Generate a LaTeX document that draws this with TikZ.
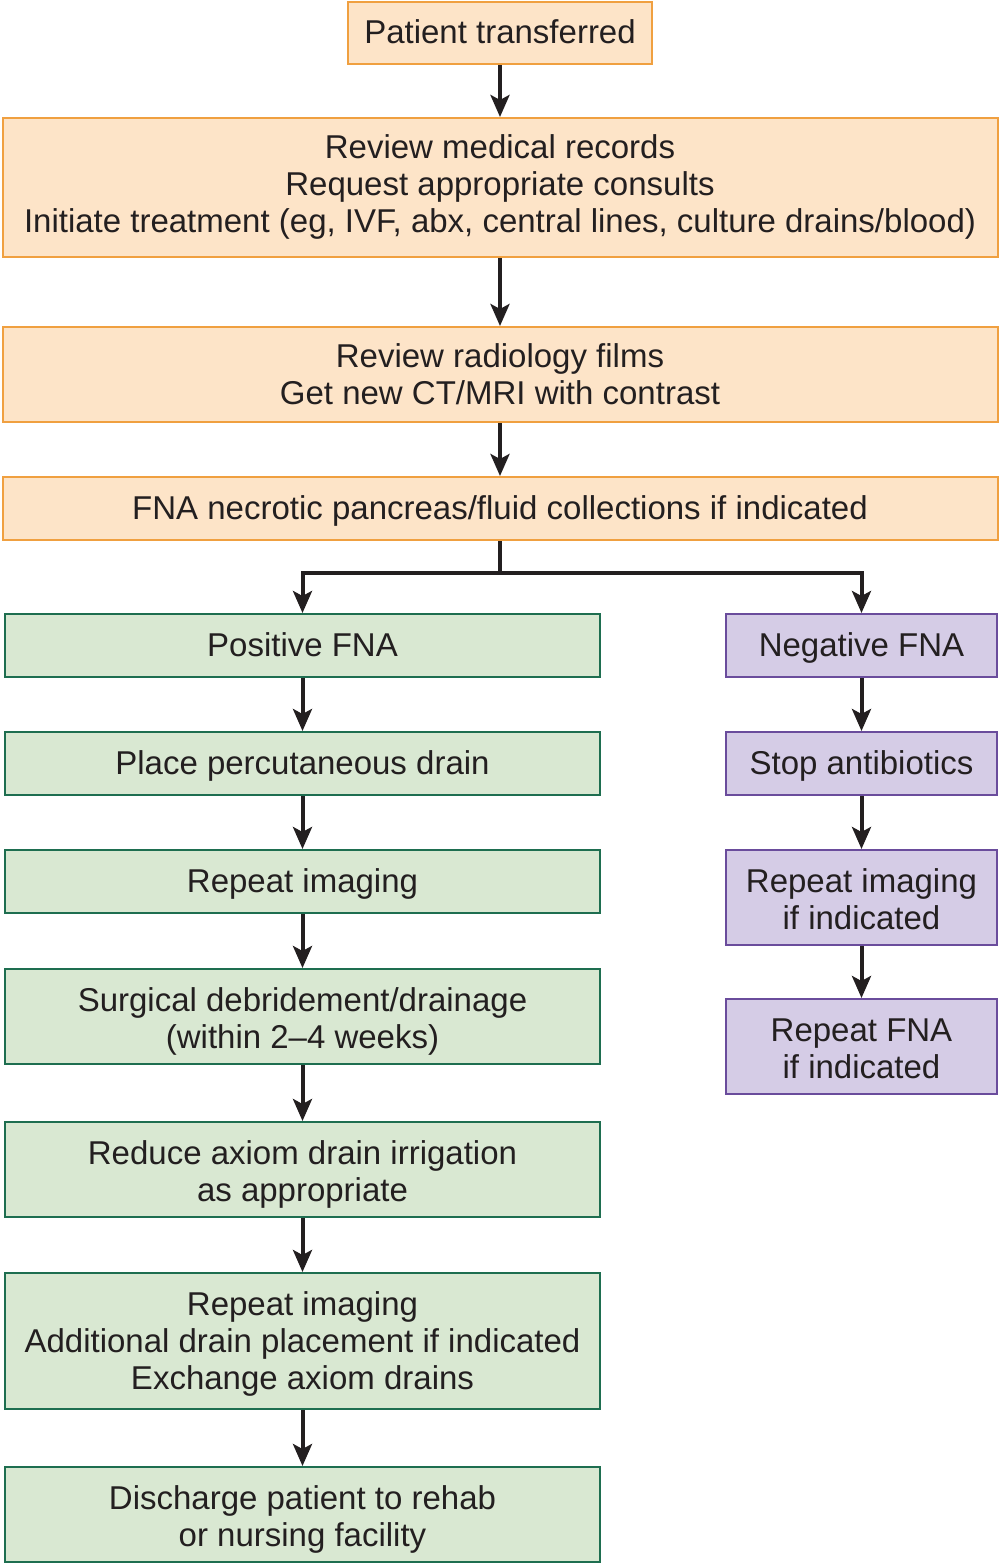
\documentclass[tikz,border=0pt]{standalone}
\usepackage{fontspec}
\setmainfont{Liberation Sans}
\usetikzlibrary{arrows.meta}
\definecolor{ofill}{HTML}{FDE4C8}
\definecolor{oline}{HTML}{F0A040}
\definecolor{gfill}{HTML}{D9E8D2}
\definecolor{gline}{HTML}{1E6E50}
\definecolor{pfill}{HTML}{D5CCE6}
\definecolor{pline}{HTML}{6A4C9C}
\definecolor{ink}{HTML}{231F20}
\newcommand{\mystrut}{\rule[-3.5pt]{0pt}{17.5pt}}
\newcommand{\uprule}[1]{\rule{0pt}{#1}}
\tikzset{
  box/.style={draw, line width=1pt, inner sep=0pt, align=center, text=ink,
    font=\fontsize{16.5pt}{18.5pt}\selectfont,
    execute at begin node=\mystrut, execute at end node=\mystrut},
  obox/.style={box, fill=ofill, draw=oline},
  gbox/.style={box, fill=gfill, draw=gline, minimum width=297.5pt},
  pbox/.style={box, fill=pfill, draw=pline, minimum width=135.5pt},
  arr/.style={draw=ink, line width=2pt, -{Stealth[length=11pt,width=9.5pt,inset=2.5pt]}},
  ln/.style={draw=ink, line width=2pt}
}
\begin{document}
\begin{tikzpicture}[x=0.5pt,y=-0.5pt]
\useasboundingbox (0,0) rectangle (999,1564);
\node[obox, minimum width=152pt, minimum height=31pt] (b1) at (500,33) {Patient transferred};
\node[obox, minimum width=497.5pt, minimum height=69.5pt] (b2) at (500,187.5) {Review medical records\\Request appropriate consults\\Initiate treatment (eg, IVF, abx, central lines, culture drains/blood)};
\node[obox, minimum width=497.5pt, minimum height=47.5pt] (b3) at (500,374.5) {\uprule{14.7pt}Review radiology films\\Get new CT/MRI with contrast};
\node[obox, minimum width=497.5pt, minimum height=31.5pt] (b4) at (500,508.5) {FNA necrotic pancreas/fluid collections if indicated};

\node[gbox, minimum height=31.5pt] (p1) at (302.5,645.5) {Positive FNA};
\node[gbox, minimum height=31.5pt] (p2) at (302.5,763.5) {Place percutaneous drain};
\node[gbox, minimum height=31.5pt] (p3) at (302.5,881.5) {Repeat imaging};
\node[gbox, minimum height=47.5pt] (p4) at (302.5,1016.5) {\uprule{16.7pt}Surgical debridement/drainage\\(within 2--4 weeks)};
\node[gbox, minimum height=47.5pt] (p5) at (302.5,1169.5) {\uprule{16.7pt}Reduce axiom drain irrigation\\as appropriate};
\node[gbox, minimum height=68pt] (p6) at (302.5,1341) {\uprule{14.7pt}Repeat imaging\\Additional drain placement if indicated\\Exchange axiom drains};
\node[gbox, minimum height=47.5pt] (p7) at (302.5,1514.5) {\uprule{16.7pt}Discharge patient to rehab\\or nursing facility};

\node[pbox, minimum height=31.5pt] (n1) at (861.5,645.5) {Negative FNA};
\node[pbox, minimum height=31.5pt] (n2) at (861.5,763.5) {Stop antibiotics};
\node[pbox, minimum height=47.5pt] (n3) at (861.5,897.5) {\uprule{16.7pt}Repeat imaging\\if indicated};
\node[pbox, minimum height=47.5pt] (n4) at (861.5,1046.5) {\uprule{17.2pt}Repeat FNA\\if indicated};

\coordinate (split) at (500,573);
\draw[arr] (b1.south) -- (b2.north);
\draw[arr] (b2.south) -- (b3.north);
\draw[arr] (b3.south) -- (b4.north);
\draw[ln] (b4.south) -- (split);
\draw[arr] (split) -| (p1.north);
\draw[arr] (split) -| (n1.north);
\draw[arr] (p1) -- (p2);
\draw[arr] (p2) -- (p3);
\draw[arr] (p3) -- (p4);
\draw[arr] (p4) -- (p5);
\draw[arr] (p5) -- (p6);
\draw[arr] (p6) -- (p7);
\draw[arr] (n1) -- (n2);
\draw[arr] (n2) -- (n3);
\draw[arr] (n3) -- (n4);
\end{tikzpicture}
\end{document}
